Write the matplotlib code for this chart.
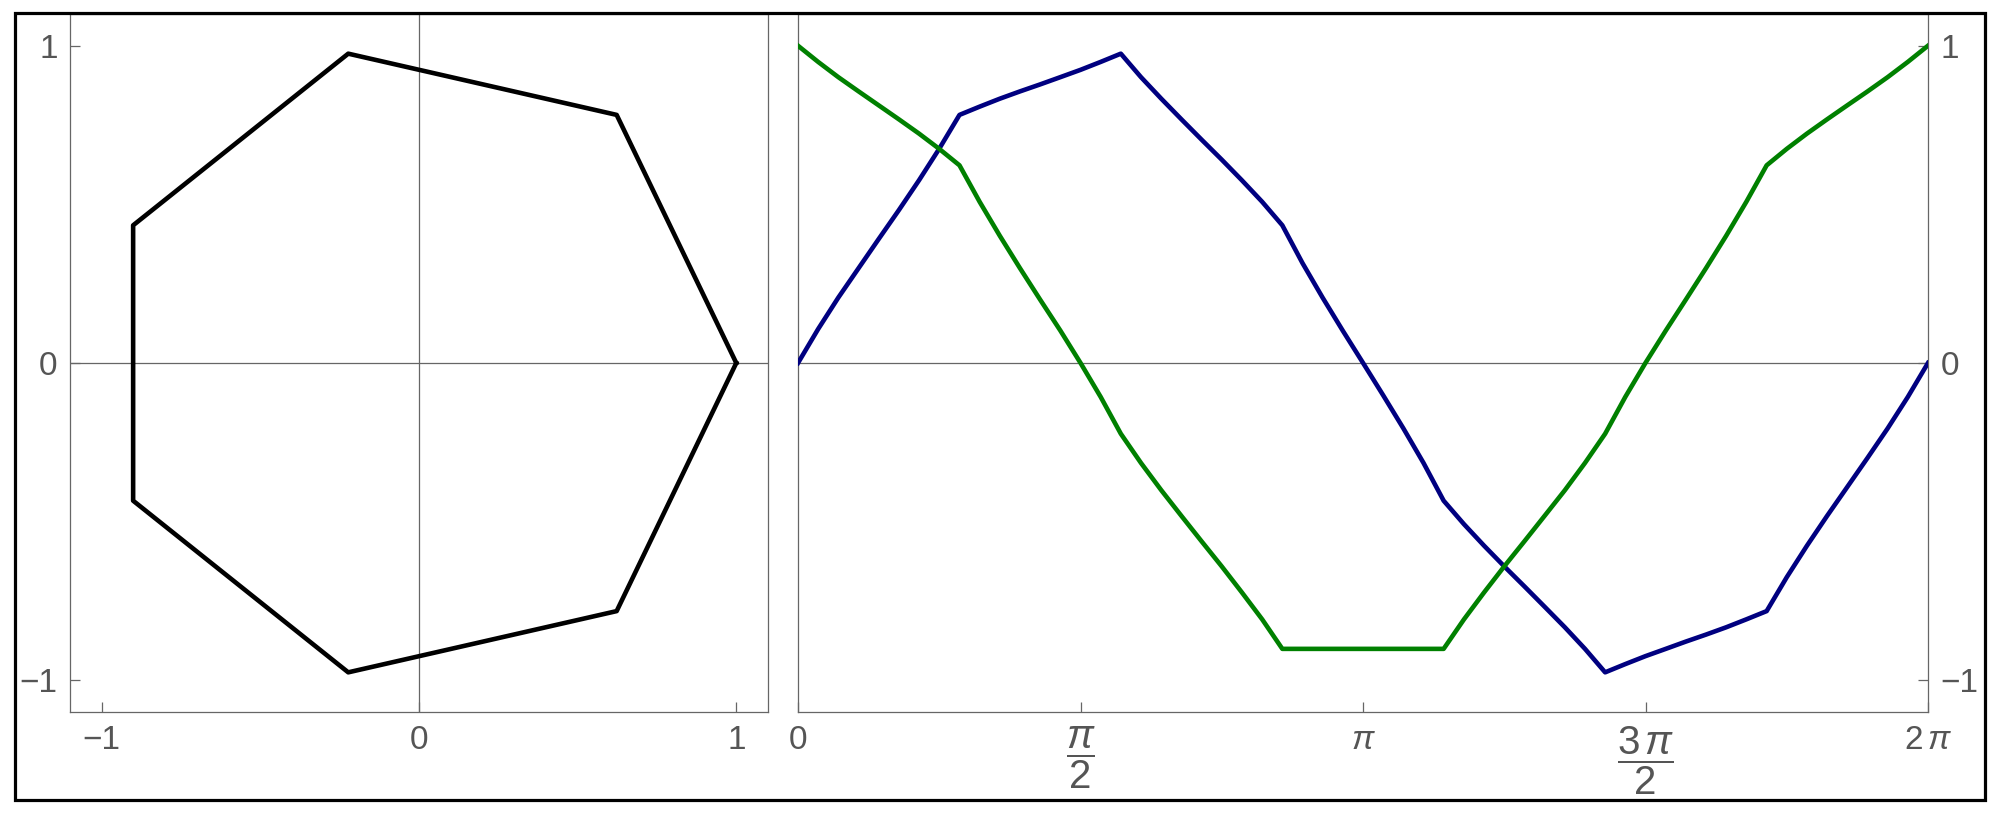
import numpy as np
import matplotlib
matplotlib.use("Agg")
import matplotlib.pyplot as plt
from matplotlib.patches import Rectangle

plt.rcParams['font.family'] = ['Liberation Sans', 'DejaVu Sans']
plt.rcParams['mathtext.fontset'] = 'custom'
plt.rcParams['mathtext.rm'] = 'Liberation Sans'
plt.rcParams['mathtext.it'] = 'Liberation Sans:italic'

# heptagon corners (closed)
hept_x = [1.0, 0.623, -0.223, -0.901, -0.901, -0.223, 0.623, 1.0]
hept_y = [0.0, 0.782, 0.975, 0.434, -0.434, -0.975, -0.782, 0.0]

# point on the heptagon at polar angle theta
theta = [0.000, 0.112, 0.224, 0.337, 0.449, 0.561, 0.673, 0.785,
         0.898, 1.010, 1.122, 1.234, 1.346, 1.459, 1.571, 1.683,
         1.795, 1.907, 2.020, 2.132, 2.244, 2.356, 2.468, 2.581,
         2.693, 2.805, 2.917, 3.029, 3.142, 3.254, 3.366, 3.478,
         3.590, 3.703, 3.815, 3.927, 4.039, 4.151, 4.264, 4.376,
         4.488, 4.600, 4.712, 4.825, 4.937, 5.049, 5.161, 5.273,
         5.386, 5.498, 5.610, 5.722, 5.834, 5.947, 6.059, 6.171,
         6.283]
x_of_t = [1.000, 0.949, 0.901, 0.856, 0.812, 0.768, 0.723, 0.675,
          0.623, 0.508, 0.401, 0.299, 0.200, 0.102, 0.000, -0.107,
          -0.223, -0.315, -0.401, -0.482, -0.562, -0.641, -0.723, -0.808,
          -0.901, -0.901, -0.901, -0.901, -0.901, -0.901, -0.901, -0.901,
          -0.901, -0.808, -0.723, -0.641, -0.562, -0.482, -0.401, -0.315,
          -0.223, -0.107, 0.000, 0.102, 0.200, 0.299, 0.401, 0.508,
          0.623, 0.675, 0.723, 0.768, 0.812, 0.856, 0.901, 0.949,
          1.000]
y_of_t = [0.000, 0.107, 0.206, 0.299, 0.391, 0.482, 0.576, 0.675,
          0.782, 0.808, 0.833, 0.856, 0.878, 0.901, 0.924, 0.949,
          0.975, 0.901, 0.833, 0.768, 0.704, 0.641, 0.576, 0.508,
          0.434, 0.315, 0.206, 0.102, 0.000, -0.102, -0.206, -0.315,
          -0.434, -0.508, -0.576, -0.641, -0.704, -0.768, -0.833, -0.901,
          -0.975, -0.949, -0.924, -0.901, -0.878, -0.856, -0.833, -0.808,
          -0.782, -0.675, -0.576, -0.482, -0.391, -0.299, -0.206, -0.107,
          0.000]

unit_ticks = [-1, 0, 1]
unit_labels = ['\u22121', '0', '1']
pi_ticks = [0, np.pi/2, np.pi, 3*np.pi/2, 2*np.pi]
pi_labels = ['0', r'$\dfrac{\pi}{2}$', r'$\pi$', r'$\dfrac{3\,\pi}{2}$', r'$2\,\pi$']

gray = '#666666'
txt = '#555555'

fig = plt.figure(figsize=(20, 8.13), dpi=100)
H = 813.0
ax1 = fig.add_axes([70/2000, (H-712)/H, 698/2000, 698/H])
ax2 = fig.add_axes([798/2000, (H-712)/H, 1130/2000, 698/H])

# left: the heptagon
ax1.plot(hept_x, hept_y, color='black', lw=3.3, zorder=3)
ax1.axhline(0, color=gray, lw=0.9, zorder=1)
ax1.axvline(0, color=gray, lw=0.9, zorder=1)
ax1.set_xlim(-1.1, 1.1)
ax1.set_ylim(-1.1, 1.1)
ax1.set_xticks(unit_ticks)
ax1.set_xticklabels(unit_labels)
ax1.set_yticks(unit_ticks)
ax1.set_yticklabels(unit_labels)

# right: x and y versus angle
ax2.plot(theta, y_of_t, color='#000080', lw=3.3, zorder=3)
ax2.plot(theta, x_of_t, color='#008000', lw=3.3, zorder=3)
ax2.axhline(0, color=gray, lw=0.9, zorder=1)
ax2.set_xlim(0, 2*np.pi)
ax2.set_ylim(-1.1, 1.1)
ax2.set_xticks(pi_ticks)
ax2.set_xticklabels(pi_labels)
ax2.set_yticks(unit_ticks)
ax2.set_yticklabels(unit_labels)
ax2.yaxis.tick_right()

for ax in (ax1, ax2):
    for sp in ax.spines.values():
        sp.set_color(gray)
        sp.set_linewidth(0.9)
    ax.tick_params(direction='in', length=7.5, width=0.9, color=gray,
                   labelcolor=txt, labelsize=24, pad=9)
ax2.tick_params(axis='y', left=False, labelleft=False, right=True, labelright=True)
for i in (1, 3):
    ax2.get_xticklabels()[i].set_fontsize(29)

# outer frame
fig.add_artist(Rectangle((15/2000, (H-800)/H), 1970/2000, 787/H,
                         transform=fig.transFigure, fill=False, lw=2.3, ec='black'))

fig.savefig('out.png', dpi=100)
